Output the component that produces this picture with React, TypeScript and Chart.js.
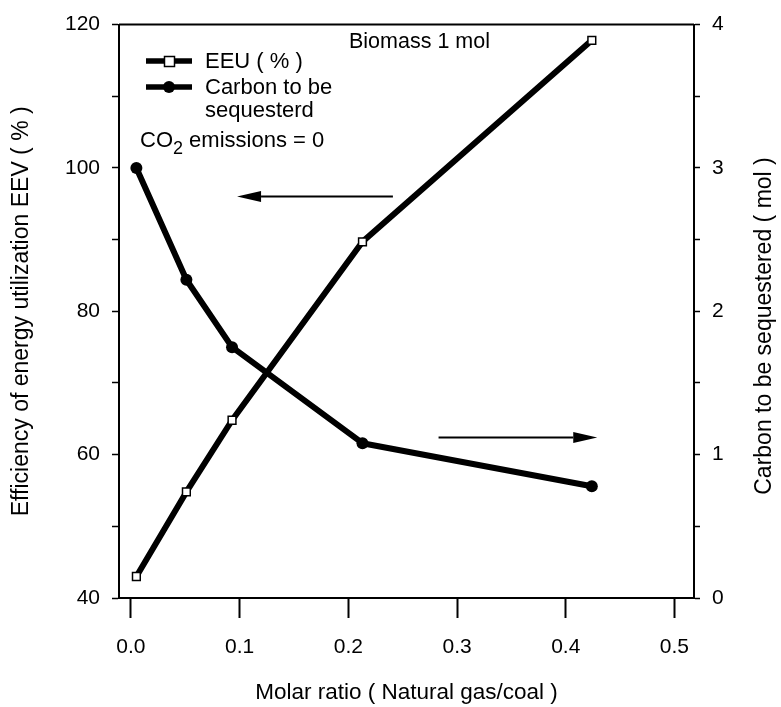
import React, { useEffect, useRef } from "react";
import { Chart, registerables } from "chart.js";

Chart.register(...registerables);

const MOLAR_RATIO = [0.005, 0.051, 0.093, 0.213, 0.424];
const EEU = [43, 54.8, 64.8, 89.7, 117.8];
const CARBON = [3.0, 2.22, 1.75, 1.08, 0.78];

const X_TICKS = [0, 0.1, 0.2, 0.3, 0.4, 0.5];
const Y_LEFT_TICKS = [40, 50, 60, 70, 80, 90, 100, 110, 120];
const Y_RIGHT_TICKS = [0, 0.5, 1, 1.5, 2, 2.5, 3, 3.5, 4];

const FONT = "'Liberation Sans', Arial, Helvetica, sans-serif";
const INK = "#000";

const annotations = {
  id: "annotations",
  afterDraw(chart: any) {
    const ctx = chart.ctx;
    const { left, right, top } = chart.chartArea;
    const xs = chart.scales.x;
    const yl = chart.scales.y;
    ctx.save();
    ctx.fillStyle = INK;
    ctx.strokeStyle = INK;

    // top frame line
    ctx.lineWidth = 2;
    ctx.beginPath();
    ctx.moveTo(left, top);
    ctx.lineTo(right, top);
    ctx.stroke();

    ctx.font = `21.5px ${FONT}`;
    ctx.textBaseline = "middle";
    ctx.textAlign = "left";
    ctx.fillText("Biomass 1 mol", 349, 42);

    // legend
    const drawSample = (y: number, square: boolean) => {
      ctx.lineWidth = 5.5;
      ctx.beginPath();
      ctx.moveTo(146, y);
      ctx.lineTo(192, y);
      ctx.stroke();
      if (square) {
        ctx.fillStyle = "#fff";
        ctx.fillRect(164.5, y - 4.5, 10, 10);
        ctx.lineWidth = 1.5;
        ctx.strokeRect(164.5, y - 4.5, 10, 10);
        ctx.fillStyle = INK;
      } else {
        ctx.beginPath();
        ctx.arc(169, y, 6, 0, Math.PI * 2);
        ctx.fill();
      }
    };
    ctx.font = `22px ${FONT}`;
    drawSample(61, true);
    drawSample(87, false);
    ctx.fillText("EEU ( % )", 205, 62);
    ctx.fillText("Carbon to be", 205, 88);
    ctx.fillText("sequesterd", 205, 111);

    // CO2 emissions = 0
    let cx = 140;
    const cy = 141;
    ctx.font = `22px ${FONT}`;
    ctx.fillText("CO", cx, cy);
    cx += ctx.measureText("CO").width;
    ctx.font = `18px ${FONT}`;
    ctx.fillText("2", cx, cy + 8);
    cx += ctx.measureText("2").width;
    ctx.font = `22px ${FONT}`;
    ctx.fillText(" emissions = 0", cx, cy);

    // arrows
    const arrow = (x0: number, x1: number, yv: number) => {
      const px0 = xs.getPixelForValue(x0);
      const px1 = xs.getPixelForValue(x1);
      const py = yl.getPixelForValue(yv);
      const dir = px1 > px0 ? 1 : -1;
      const headLen = 24;
      ctx.lineWidth = 2;
      ctx.beginPath();
      ctx.moveTo(px0, py);
      ctx.lineTo(px1 - dir * headLen, py);
      ctx.stroke();
      ctx.beginPath();
      ctx.moveTo(px1, py);
      ctx.lineTo(px1 - dir * headLen, py - 5.5);
      ctx.lineTo(px1 - dir * headLen, py + 5.5);
      ctx.closePath();
      ctx.fill();
    };
    arrow(0.241, 0.0976, 96.0);
    arrow(0.283, 0.429, 62.4);

    // right axis title (reads bottom to top)
    ctx.save();
    ctx.translate(765, 326);
    ctx.rotate(-Math.PI / 2);
    ctx.font = `23px ${FONT}`;
    ctx.textAlign = "center";
    ctx.textBaseline = "middle";
    ctx.fillText("Carbon to be sequestered ( mol )", 0, 0);
    ctx.restore();

    ctx.restore();
  },
};

export default function App() {
  const ref = useRef<HTMLCanvasElement | null>(null);

  useEffect(() => {
    if (!ref.current) return;
    const chart = new Chart(ref.current, {
      type: "line",
      data: {
        datasets: [
          {
            label: "EEU ( % )",
            data: MOLAR_RATIO.map((x, i) => ({ x, y: EEU[i] })),
            yAxisID: "y",
            borderColor: INK,
            borderWidth: 6,
            borderJoinStyle: "round",
            borderCapStyle: "round",
            pointStyle: "rect",
            pointRadius: 5.5,
            pointBackgroundColor: "#fff",
            pointBorderColor: INK,
            pointBorderWidth: 1.5,
            tension: 0,
          },
          {
            label: "Carbon to be sequesterd",
            data: MOLAR_RATIO.map((x, i) => ({ x, y: CARBON[i] })),
            yAxisID: "y1",
            borderColor: INK,
            borderWidth: 6,
            borderJoinStyle: "round",
            borderCapStyle: "round",
            pointStyle: "circle",
            pointRadius: 6,
            pointBackgroundColor: INK,
            pointBorderColor: INK,
            pointBorderWidth: 0,
            tension: 0,
          },
        ],
      },
      options: {
        animation: false,
        responsive: false,
        maintainAspectRatio: false,
        layout: { padding: { top: 17, left: 0, right: 0, bottom: 0 } },
        plugins: {
          legend: { display: false },
          tooltip: { enabled: false },
        },
        scales: {
          x: {
            type: "linear",
            position: "bottom",
            min: -0.011,
            max: 0.518,
            afterBuildTicks: (s: any) => {
              s.ticks = X_TICKS.map((v) => ({ value: v }));
            },
            afterFit: (s: any) => {
              s.height = 109;
            },
            border: { color: INK, width: 2 },
            grid: {
              drawOnChartArea: false,
              drawTicks: true,
              tickLength: 20,
              tickWidth: 2,
              tickColor: INK,
            },
            ticks: {
              color: INK,
              padding: 17,
              font: { family: FONT, size: 21 },
              callback: (v: any) => Number(v).toFixed(1),
            },
            title: {
              display: true,
              text: "Molar ratio ( Natural gas/coal )",
              color: INK,
              font: { family: FONT, size: 22.5 },
              padding: { top: 0, bottom: 1 },
            },
          },
          y: {
            type: "linear",
            position: "left",
            min: 40,
            max: 120,
            afterBuildTicks: (s: any) => {
              s.ticks = Y_LEFT_TICKS.map((v) => ({ value: v }));
            },
            afterFit: (s: any) => {
              s.width = 119;
            },
            border: { color: INK, width: 2 },
            grid: {
              drawOnChartArea: false,
              drawTicks: true,
              tickLength: 7,
              tickWidth: 1.5,
              tickColor: INK,
            },
            ticks: {
              color: INK,
              padding: 12,
              font: { family: FONT, size: 21 },
              callback: (v: any) => (Number(v) % 20 === 0 ? String(v) : ""),
            },
            title: {
              display: true,
              text: "Efficiency of energy utilization EEV ( % )",
              color: INK,
              font: { family: FONT, size: 23 },
              padding: { top: 8, bottom: 0 },
            },
          },
          y1: {
            type: "linear",
            position: "right",
            min: 0,
            max: 4,
            afterBuildTicks: (s: any) => {
              s.ticks = Y_RIGHT_TICKS.map((v) => ({ value: v }));
            },
            afterFit: (s: any) => {
              s.width = 87;
            },
            border: { color: INK, width: 2 },
            grid: {
              drawOnChartArea: false,
              drawTicks: true,
              tickLength: 6,
              tickWidth: 1.5,
              tickColor: INK,
            },
            ticks: {
              color: INK,
              padding: 12,
              font: { family: FONT, size: 21 },
              callback: (v: any) => (Number.isInteger(Number(v)) ? String(v) : ""),
            },
          },
        },
      },
      plugins: [annotations],
    });
    return () => chart.destroy();
  }, []);

  return (
    <div style={{ position: "fixed", left: 0, top: 0, width: 781, height: 707, background: "#fff" }}>
      <canvas ref={ref} width={781} height={707} style={{ width: 781, height: 707, display: "block" }} />
    </div>
  );
}
